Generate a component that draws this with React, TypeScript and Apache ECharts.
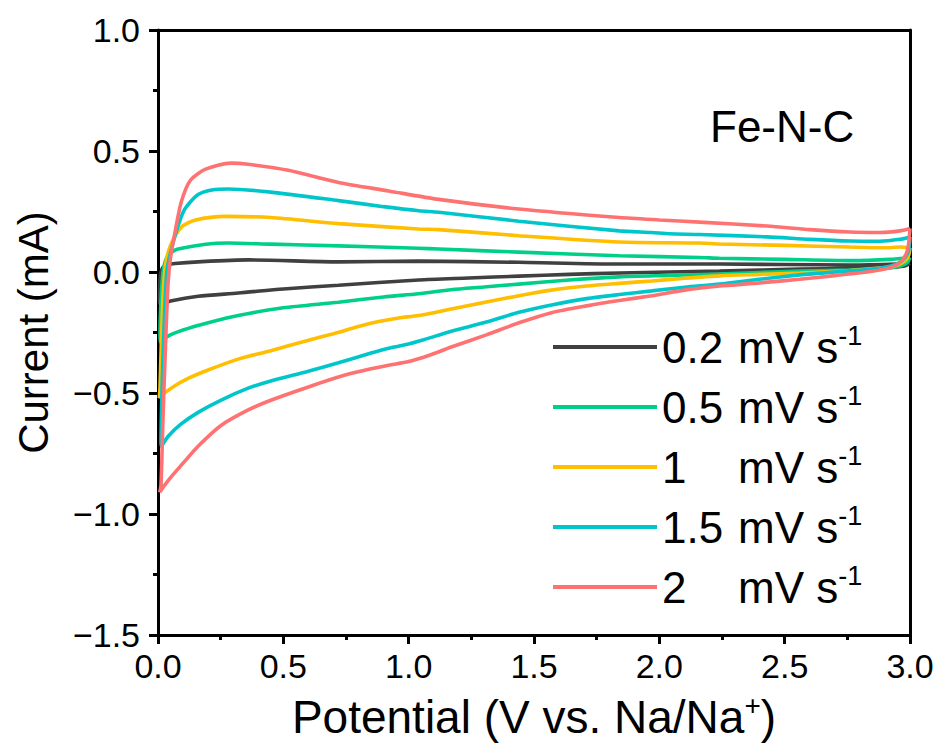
import React, { useEffect, useRef } from 'react';
import * as echarts from 'echarts';

const FONT = '"Liberation Sans", Arial, Helvetica, sans-serif';

// Scan rates (mV s^-1)
const scanRates = ['0.2', '0.5', '1', '1.5', '2'];
const colors = ['#404040', '#00CF8A', '#FFBE00', '#00C6CB', '#FF7272'];

// x-axis tick values and y-axis tick values
const xTicks = [0, 0.5, 1.0, 1.5, 2.0, 2.5, 3.0];
const yTicks = [-1.5, -1.0, -0.5, 0.0, 0.5, 1.0];

// [Potential (V), Current (mA)] — cathodic (lower) branch 3.0 -> 0 V
const lower02: [number, number][] = [
  [3.0, 0.035], [2.98, 0.025], [2.9, 0.018], [2.76, 0.015], [2.56, 0.012], [2.4, 0.008],
  [2.24, 0.004], [2.04, 0.0], [1.84, -0.004], [1.64, -0.01], [1.44, -0.017], [1.24, -0.025],
  [1.04, -0.033], [0.72, -0.055], [0.5, -0.07], [0.32, -0.087], [0.16, -0.1], [0.05, -0.12],
  [0.01, -0.135],
];
const upper02: [number, number][] = [
  [0.006, -0.11], [0.008, -0.03], [0.012, 0.0], [0.02, 0.02], [0.04, 0.03], [0.067, 0.035],
  [0.16, 0.042], [0.36, 0.05], [0.72, 0.042], [1.04, 0.045], [1.44, 0.04], [1.84, 0.033],
  [2.24, 0.033], [2.76, 0.029], [2.95, 0.033], [3.0, 0.035],
];

const lower05: [number, number][] = [
  [3.0, 0.06], [2.99, 0.04], [2.96, 0.025], [2.9, 0.015], [2.76, 0.008], [2.56, 0.004],
  [2.4, -0.002], [2.24, -0.008], [2.04, -0.014], [1.84, -0.02], [1.64, -0.033], [1.44, -0.05],
  [1.3, -0.062], [1.17, -0.073], [1.04, -0.09], [0.9, -0.103], [0.72, -0.125], [0.5, -0.148],
  [0.32, -0.18], [0.2, -0.21], [0.1, -0.24], [0.04, -0.265], [0.01, -0.29],
];
const upper05: [number, number][] = [
  [0.008, -0.26], [0.012, -0.12], [0.02, 0.0], [0.035, 0.06], [0.06, 0.085], [0.08, 0.095],
  [0.19, 0.115], [0.28, 0.12], [0.45, 0.115], [0.72, 0.108], [1.04, 0.098], [1.12, 0.095],
  [1.44, 0.082], [1.84, 0.067], [2.16, 0.06], [2.24, 0.057], [2.5, 0.052], [2.76, 0.047],
  [2.92, 0.052], [3.0, 0.06],
];

const lower1: [number, number][] = [
  [3.0, 0.1], [2.995, 0.07], [2.98, 0.045], [2.94, 0.025], [2.9, 0.018], [2.75, 0.005],
  [2.56, -0.004], [2.4, -0.01], [2.24, -0.016], [2.1, -0.026], [1.97, -0.037], [1.84, -0.047],
  [1.71, -0.058], [1.57, -0.075], [1.44, -0.098], [1.31, -0.124], [1.17, -0.153], [1.04, -0.18],
  [0.96, -0.19], [0.88, -0.205], [0.8, -0.225], [0.7, -0.255], [0.59, -0.285], [0.45, -0.325],
  [0.32, -0.36], [0.2, -0.405], [0.12, -0.44], [0.06, -0.475], [0.02, -0.505], [0.005, -0.52],
];
const upper1: [number, number][] = [
  [0.008, -0.48], [0.013, -0.3], [0.02, -0.1], [0.03, 0.03], [0.05, 0.11], [0.093, 0.185],
  [0.15, 0.215], [0.27, 0.23], [0.45, 0.225], [0.72, 0.2], [1.04, 0.178], [1.12, 0.175],
  [1.44, 0.15], [1.84, 0.124], [2.16, 0.12], [2.24, 0.116], [2.5, 0.11], [2.76, 0.103],
  [2.9, 0.1], [2.96, 0.103], [3.0, 0.1],
];

const lower15: [number, number][] = [
  [3.0, 0.145], [2.995, 0.09], [2.98, 0.06], [2.95, 0.035], [2.9, 0.02], [2.83, 0.01],
  [2.7, 0.0], [2.56, -0.012], [2.4, -0.03], [2.24, -0.05], [2.1, -0.063], [1.97, -0.078],
  [1.84, -0.093], [1.71, -0.11], [1.57, -0.136], [1.44, -0.166], [1.31, -0.207], [1.17, -0.245],
  [1.06, -0.28], [0.99, -0.3], [0.92, -0.315], [0.85, -0.335], [0.72, -0.375], [0.6, -0.41],
  [0.45, -0.45], [0.36, -0.48], [0.25, -0.53], [0.16, -0.58], [0.09, -0.63], [0.04, -0.68],
  [0.013, -0.72],
];
const upper15: [number, number][] = [
  [0.012, -0.7], [0.017, -0.45], [0.025, -0.2], [0.035, 0.0], [0.05, 0.08], [0.08, 0.19],
  [0.107, 0.26], [0.16, 0.32], [0.22, 0.34], [0.28, 0.343], [0.45, 0.33], [0.72, 0.295],
  [0.9, 0.27], [1.04, 0.253], [1.12, 0.247], [1.44, 0.21], [1.84, 0.17], [1.97, 0.163],
  [2.04, 0.158], [2.16, 0.155], [2.43, 0.145], [2.6, 0.135], [2.76, 0.128], [2.88, 0.127],
  [2.96, 0.135], [3.0, 0.145],
];

const lower2: [number, number][] = [
  [3.0, 0.18], [2.995, 0.12], [2.985, 0.075], [2.96, 0.04], [2.92, 0.018], [2.85, 0.003],
  [2.7, -0.015], [2.56, -0.03], [2.4, -0.045], [2.24, -0.058], [2.1, -0.075], [1.97, -0.098],
  [1.84, -0.118], [1.71, -0.14], [1.57, -0.168], [1.44, -0.21], [1.31, -0.26], [1.17, -0.31],
  [1.08, -0.345], [1.0, -0.37], [0.92, -0.385], [0.85, -0.4], [0.75, -0.425], [0.6, -0.475],
  [0.45, -0.53], [0.36, -0.57], [0.25, -0.635], [0.16, -0.72], [0.1, -0.79], [0.05, -0.85],
  [0.02, -0.89], [0.007, -0.91],
];
const upper2: [number, number][] = [
  [0.012, -0.88], [0.02, -0.6], [0.03, -0.3], [0.04, -0.05], [0.05, 0.06], [0.068, 0.165],
  [0.093, 0.29], [0.13, 0.38], [0.19, 0.425], [0.29, 0.45], [0.36, 0.445], [0.52, 0.42],
  [0.72, 0.37], [0.92, 0.335], [1.12, 0.3], [1.44, 0.26], [1.84, 0.225], [2.0, 0.215],
  [2.16, 0.206], [2.43, 0.19], [2.6, 0.175], [2.76, 0.165], [2.88, 0.163], [2.96, 0.17],
  [3.0, 0.18],
];

const loops = [
  [lower02, upper02],
  [lower05, upper05],
  [lower1, upper1],
  [lower15, upper15],
  [lower2, upper2],
];

export default function App() {
  const ref = useRef<HTMLDivElement>(null);

  useEffect(() => {
    if (!ref.current) return;
    const chart = echarts.init(ref.current, null, { renderer: 'svg' });

    const axisLineStyle = { color: '#000', width: 3 };

    chart.setOption({
      animation: false,
      backgroundColor: '#fff',
      textStyle: { fontFamily: FONT },
      grid: { left: 158, right: 31, top: 30, bottom: 116, containLabel: false },
      xAxis: [
        {
          type: 'value',
          min: xTicks[0],
          max: xTicks[xTicks.length - 1],
          interval: 0.5,
          position: 'bottom',
          axisLine: { show: true, onZero: false, lineStyle: axisLineStyle },
          axisTick: { show: true, inside: false, length: 9, lineStyle: { color: '#000', width: 3 } },
          minorTick: { show: true, splitNumber: 2, length: 5, lineStyle: { color: '#000', width: 3 } },
          splitLine: { show: false },
          minorSplitLine: { show: false },
          axisLabel: {
            fontSize: 34,
            color: '#000',
            fontFamily: FONT,
            margin: 14,
            formatter: (v: number) => v.toFixed(1),
          },
          name: '{t|Potential (V vs. Na/Na}{sup|+}{t|)}',
          nameLocation: 'middle',
          nameGap: 56,
          nameTextStyle: {
            rich: {
              t: { fontSize: 46, color: '#000', fontFamily: FONT, lineHeight: 52 },
              sup: { fontSize: 28, color: '#000', fontFamily: FONT, lineHeight: 30, verticalAlign: 'top' },
            },
          },
        },
        {
          type: 'value',
          min: xTicks[0],
          max: xTicks[xTicks.length - 1],
          position: 'top',
          axisLine: { show: true, onZero: false, lineStyle: axisLineStyle },
          axisTick: { show: false },
          axisLabel: { show: false },
          splitLine: { show: false },
        },
      ],
      yAxis: [
        {
          type: 'value',
          min: yTicks[0],
          max: yTicks[yTicks.length - 1],
          interval: 0.5,
          position: 'left',
          axisLine: { show: true, onZero: false, lineStyle: axisLineStyle },
          axisTick: { show: true, inside: false, length: 9, lineStyle: { color: '#000', width: 3 } },
          minorTick: { show: true, splitNumber: 2, length: 5, lineStyle: { color: '#000', width: 3 } },
          splitLine: { show: false },
          minorSplitLine: { show: false },
          axisLabel: {
            fontSize: 34,
            color: '#000',
            fontFamily: FONT,
            margin: 18,
            formatter: (v: number) => v.toFixed(1).replace('-', '\u2212'),
          },
          name: 'Current (mA)',
          nameLocation: 'middle',
          nameGap: 104,
          nameTextStyle: { fontSize: 42, color: '#000', fontFamily: FONT },
        },
        {
          type: 'value',
          min: yTicks[0],
          max: yTicks[yTicks.length - 1],
          position: 'right',
          axisLine: { show: true, onZero: false, lineStyle: axisLineStyle },
          axisTick: { show: false },
          axisLabel: { show: false },
          splitLine: { show: false },
        },
      ],
      legend: {
        data: scanRates,
        orient: 'vertical',
        left: 548,
        top: 317,
        itemWidth: 104,
        itemHeight: 4,
        itemGap: 13,
        icon: 'rect',
        formatter: (name: string) => `{num|${name}}{n|mV s}{sup|-1}`,
        textStyle: {
          rich: {
            num: { fontSize: 44, color: '#000', fontFamily: FONT, lineHeight: 50, width: 76 },
            n: { fontSize: 44, color: '#000', fontFamily: FONT, lineHeight: 50 },
            sup: { fontSize: 27, color: '#000', fontFamily: FONT, lineHeight: 30, verticalAlign: 'top' },
          },
        },
      },
      graphic: [
        {
          type: 'text',
          left: 710,
          top: 104,
          style: { text: 'Fe-N-C', fontSize: 44, fill: '#000', fontFamily: FONT },
        },
      ],
      series: loops.map(([lo, up], i) => ({
        name: scanRates[i],
        type: 'line',
        xAxisIndex: 0,
        yAxisIndex: 0,
        data: [...lo, ...up],
        showSymbol: false,
        symbol: 'none',
        smooth: 0.25,
        color: colors[i],
        lineStyle: { color: colors[i], width: 3.6 },
        z: 2 + i,
      })),
    });

    return () => chart.dispose();
  }, []);

  return (
    <div
      ref={ref}
      style={{ position: 'fixed', left: 0, top: 0, width: 941, height: 751, background: '#fff' }}
    />
  );
}
